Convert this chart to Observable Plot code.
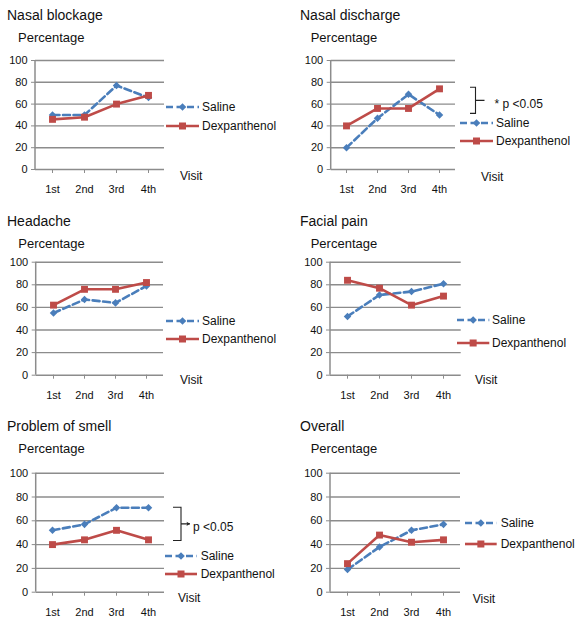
<!DOCTYPE html>
<html><head><meta charset="utf-8">
<script src="https://cdn.jsdelivr.net/npm/d3@7"></script>
<script src="https://cdn.jsdelivr.net/npm/@observablehq/plot@0.6"></script>
<style>
body{margin:0;background:#fff;}
#chart{position:relative;width:576px;height:617px;font-family:"Liberation Sans",Arial,sans-serif;color:#111;overflow:hidden;}
#chart svg.plot{position:absolute;}
.abs{position:absolute;white-space:nowrap;line-height:1;transform:translateY(-50%);}
[aria-label^="y-axis"] line,[aria-label^="y-axis"] path,[aria-label^="x-axis"] line,[aria-label^="x-axis"] path{stroke:#8c8c8c;}
</style></head><body><div id="chart"></div>
<script>
// ---- data ----
const visits = ["1st", "2nd", "3rd", "4th"];
const panels = ["Nasal blockage", "Nasal discharge", "Headache", "Facial pain", "Problem of smell", "Overall"];
const seriesNames = ["Saline", "Dexpanthenol"];
const saline = [
  [50, 50, 77, 66],
  [20, 47, 69, 50],
  [55, 67, 64, 79],
  [52, 71, 74, 81],
  [52, 57, 71, 71],
  [19, 38, 52, 57]
];
const dexpanthenol = [
  [46, 48, 60, 68],
  [40, 56, 56, 74],
  [62, 76, 76, 82],
  [84, 77, 62, 70],
  [40, 44, 52, 44],
  [24, 48, 42, 44]
];
const yTicks = [0, 20, 40, 60, 80, 100];
const yLabel = "Percentage";
const xLabel = "Visit";
const brackets = [
  {panel: 1, at: "4th", lo: 51, hi: 75, label: "* p <0.05"},
  {panel: 4, at: "4th", lo: 43, hi: 71, label: "p <0.05"}
];

// ---- layout (page pixels) ----
const colX = [0, 290], rowTop = [0, 200, 410], rowH = [200, 210, 207], panelW = 286;
const layout = [
  {col:0,row:0,axL:35,axR:164,y100:60,y0:169,title:[7,15],ylab:[18,37],visit:[180,176],leg:{x1:166,x2:199,tx:202,ys:[107,126]}},
  {col:1,row:0,axL:330.7,axR:455,y100:60,y0:169,title:[300,15],ylab:[310.7,37],visit:[481,177],leg:{x1:460,x2:493,tx:496,ys:[123,141]},br:{dx:36.5,arm:5.5,tick:9,tx:19}},
  {col:0,row:1,axL:35.7,axR:163,y100:261.7,y0:374.7,title:[7,221],ylab:[18.3,243],visit:[180,380],leg:{x1:166,x2:199,tx:202,ys:[320.7,338.7]}},
  {col:1,row:1,axL:330,axR:460.7,y100:261.7,y0:374.7,title:[300,221],ylab:[310.7,243],visit:[475,380],leg:{x1:456.7,x2:489,tx:492,ys:[320,342.7]}},
  {col:0,row:2,axL:35.7,axR:164,y100:472.7,y0:591.7,title:[7,426],ylab:[18.3,448],visit:[178,598],leg:{x1:165,x2:197,tx:200.7,ys:[555.7,574]},br:{dx:33,arm:8,tick:9,tx:12,arrow:true}},
  {col:1,row:2,axL:330,axR:460,y100:472.7,y0:591.7,title:[300,426],ylab:[310.7,448],visit:[472.7,599],leg:{x1:465,x2:496.7,tx:500.7,ys:[523.3,544.3]}}
];
const colors = {Saline: "#4a7ebb", Dexpanthenol: "#be4b48"};
const grid = "#8c8c8c";
const chart = document.getElementById("chart");

function addText(txt, x, y, size) {
  const d = document.createElement("div");
  d.className = "abs";
  d.textContent = txt;
  d.style.left = x + "px";
  d.style.top = y + "px";
  d.style.fontSize = size + "px";
  chart.appendChild(d);
  return d;
}

panels.forEach((name, p) => {
  const L = layout[p];
  const left = colX[L.col], top = rowTop[L.row], H = rowH[L.row];
  const sal = visits.map((v, i) => ({series: "Saline", visit: v, value: saline[p][i]}));
  const dex = visits.map((v, i) => ({series: "Dexpanthenol", visit: v, value: dexpanthenol[p][i]}));

  const yAxisLine = (index, scales, values, dims) => {
    const g = d3.create("svg:g");
    g.append("line")
      .attr("x1", dims.marginLeft).attr("x2", dims.marginLeft)
      .attr("y1", dims.marginTop).attr("y2", dims.height - dims.marginBottom)
      .attr("stroke", grid).attr("stroke-width", 1.5);
    return g.node();
  };

  const br = brackets.find(b => b.panel === p);
  const bracketMark = (index, scales, values, dims) => {
    const g = d3.create("svg:g");
    if (!br || typeof scales.x !== "function") return g.node();
    const cfg = L.br;
    const xv = scales.x(br.at) + cfg.dx;
    const yt = scales.y(br.hi), yb = scales.y(br.lo), ym = (yt + yb) / 2;
    g.append("path")
      .attr("d", `M${xv - cfg.arm},${yt}H${xv}V${yb}H${xv - cfg.arm}M${xv},${ym}H${xv + cfg.tick}`)
      .attr("fill", "none").attr("stroke", "#222").attr("stroke-width", 1.1);
    if (cfg.arrow) {
      const xa = xv + cfg.tick;
      g.append("path").attr("d", `M${xa},${ym}l-3.5,-2.2l0.8,2.2l-0.8,2.2z`).attr("fill", "#222");
    }
    g.append("text")
      .attr("x", xv + cfg.tx).attr("y", ym + 3).attr("dy", "0.35em")
      .attr("text-anchor", "start")
      .attr("font-size", 12).attr("fill", "#111")
      .text(br.label);
    return g.node();
  };

  const svg = Plot.plot({
    width: panelW,
    height: H,
    marginLeft: L.axL - left,
    marginRight: left + panelW - L.axR,
    marginTop: L.y100 - top,
    marginBottom: top + H - L.y0,
    style: {fontFamily: '"Liberation Sans", Arial, sans-serif', fontSize: "11px", color: "#111", background: "transparent", overflow: "visible"},
    x: {type: "point", domain: visits, padding: 0.5, label: null, tickSize: 4, tickPadding: 12},
    y: {domain: [0, 100], ticks: yTicks, tickFormat: d => String(d), label: null, tickSize: 4, tickPadding: 4},
    marks: [
      Plot.ruleY(yTicks, {stroke: grid, strokeWidth: 1.4}),
      yAxisLine,
      Plot.line(sal, {x: "visit", y: "value", stroke: colors.Saline, strokeWidth: 2.6, strokeDasharray: "7,3.5"}),
      Plot.dot(sal, {x: "visit", y: "value", symbol: "diamond2", r: 3.4, fill: colors.Saline, stroke: "none"}),
      Plot.line(dex, {x: "visit", y: "value", stroke: colors.Dexpanthenol, strokeWidth: 2.6}),
      Plot.dot(dex, {x: "visit", y: "value", symbol: "square", r: 3.9, fill: colors.Dexpanthenol, stroke: "none"}),
      bracketMark
    ]
  });
  svg.classList.add("plot");
  svg.style.left = left + "px";
  svg.style.top = top + "px";
  chart.appendChild(svg);

  addText(name, L.title[0], L.title[1], 14);
  addText(yLabel, L.ylab[0], L.ylab[1], 13);
  addText(xLabel, L.visit[0], L.visit[1], 12);

  // legend
  seriesNames.forEach((s, k) => {
    const y = L.leg.ys[k];
    const w = L.leg.x2 - L.leg.x1;
    const ls = d3.create("svg").attr("width", w + 2).attr("height", 12)
      .style("position", "absolute").style("left", (L.leg.x1 - 1) + "px").style("top", (y - 6) + "px");
    ls.append("line").attr("x1", 1).attr("x2", w + 1).attr("y1", 6).attr("y2", 6)
      .attr("stroke", colors[s]).attr("stroke-width", 2.6)
      .attr("stroke-dasharray", s === "Saline" ? "7,3.5" : null);
    const cx = 1 + w / 2;
    if (s === "Saline") {
      ls.append("path").attr("d", `M${cx},${6 - 3.8}L${cx + 3.8},6L${cx},${6 + 3.8}L${cx - 3.8},6Z`).attr("fill", colors[s]);
    } else {
      ls.append("rect").attr("x", cx - 3.5).attr("y", 2.5).attr("width", 7).attr("height", 7).attr("fill", colors[s]);
    }
    chart.appendChild(ls.node());
    addText(s, L.leg.tx, y, 12);
  });
});
</script>
</body></html>
